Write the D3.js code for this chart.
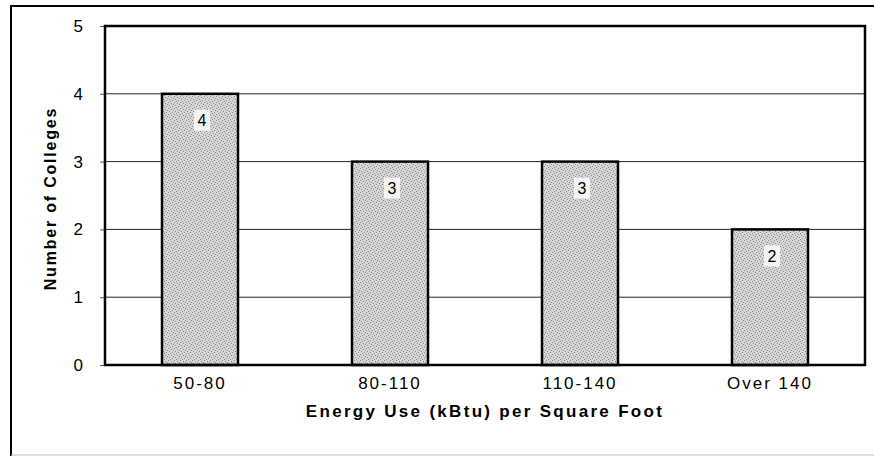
<!DOCTYPE html>
<meta charset="utf-8">
<style>
body { margin: 0; background: #fff; }
text { font-family: Arial, "Liberation Sans", sans-serif; }
</style>
<body>
<script src="https://d3js.org/d3.v7.min.js"></script>
<script>
// data
let categories = ['50-80', '80-110', '110-140', 'Over 140'];
let counts = [4, 3, 3, 2];
let yTicks = [0, 1, 2, 3, 4, 5];

let width = 874, height = 457;
let margin = {top: 26, right: 9, bottom: 92, left: 105};

let svg = d3.select('body').append('svg')
	.attr('width', width)
	.attr('height', height);

// stipple fill for bars
let defs = svg.append('defs');
let pat = defs.append('pattern')
	.attr('id', 'stip')
	.attr('patternUnits', 'userSpaceOnUse')
	.attr('width', 6).attr('height', 6);
pat.append('rect').attr('width', 6).attr('height', 6).attr('fill', '#d6d6d6');
[[0,0],[3,1],[1,3],[4,4],[2,5],[5,2]].forEach(p => {
	pat.append('rect').attr('x', p[0]).attr('y', p[1])
		.attr('width', 1).attr('height', 1).attr('fill', '#8a8a8a');
});

// outer frame
svg.append('path')
	.attr('d', 'M11,456 L11,6 L874,6')
	.attr('fill', 'none').attr('stroke', '#000').attr('stroke-width', 2);
svg.append('line')
	.attr('x1', 11).attr('x2', 874).attr('y1', 455).attr('y2', 455)
	.attr('stroke', '#bbb').attr('stroke-width', 1);

let x = d3.scaleBand()
	.domain(categories)
	.range([margin.left, width - margin.right])
	.paddingInner(0.6)
	.paddingOuter(0.3);

let y = d3.scaleLinear()
	.domain([0, 5])
	.range([height - margin.bottom, margin.top]);

// gridlines
svg.append('g')
	.selectAll('line')
	.data(yTicks.slice(1, -1))
	.join('line')
	.attr('x1', margin.left).attr('x2', width - margin.right)
	.attr('y1', d => y(d)).attr('y2', d => y(d))
	.attr('stroke', '#222').attr('stroke-width', 1);

// y axis
let yAxis = svg.append('g')
	.attr('transform', 'translate(' + margin.left + ',0)')
	.call(d3.axisLeft(y).tickValues(yTicks).tickSize(5).tickPadding(17).tickFormat(d3.format('d')));
yAxis.select('.domain').remove();
yAxis.selectAll('.tick line').attr('stroke', '#555');
yAxis.selectAll('text').attr('font-size', 17).attr('fill', '#000');

// bars
svg.append('g')
	.selectAll('rect')
	.data(counts)
	.join('rect')
	.attr('x', (d, i) => x(categories[i]))
	.attr('y', d => y(d))
	.attr('width', x.bandwidth())
	.attr('height', d => y(0) - y(d))
	.attr('fill', 'url(#stip)')
	.attr('stroke', '#000')
	.attr('stroke-width', 2.5);

// value labels
let lbl = svg.append('g')
	.selectAll('g')
	.data(counts)
	.join('g')
	.attr('transform', (d, i) => 'translate(' + (x(categories[i]) + x.bandwidth() / 2 + 2) + ',' + (y(d) + 27) + ')');
lbl.append('rect')
	.attr('x', -8).attr('y', -11).attr('width', 16).attr('height', 21)
	.attr('fill', '#f4f4f4');
lbl.append('text')
	.attr('text-anchor', 'middle')
	.attr('dy', '0.35em')
	.attr('font-size', 16)
	.text(d => d);

// plot border
svg.append('rect')
	.attr('x', margin.left).attr('y', margin.top)
	.attr('width', width - margin.right - margin.left)
	.attr('height', height - margin.bottom - margin.top)
	.attr('fill', 'none').attr('stroke', '#000').attr('stroke-width', 2.5);

// x axis labels
let xAxis = svg.append('g')
	.attr('transform', 'translate(0,' + (height - margin.bottom) + ')')
	.call(d3.axisBottom(x).tickSize(0).tickPadding(12));
xAxis.select('.domain').remove();
xAxis.selectAll('text').attr('font-size', 17).attr('fill', '#000').style('letter-spacing', '2px');

// axis titles
svg.append('text')
	.attr('x', (margin.left + width - margin.right) / 2)
	.attr('y', 417)
	.attr('text-anchor', 'middle')
	.attr('font-size', 17).attr('font-weight', 'bold')
	.style('letter-spacing', '2.3px')
	.text('Energy Use (kBtu) per Square Foot');

svg.append('text')
	.attr('transform', 'translate(56,' + ((margin.top + height - margin.bottom) / 2 + 3) + ') rotate(-90)')
	.attr('text-anchor', 'middle')
	.attr('font-size', 16).attr('font-weight', 'bold')
	.style('letter-spacing', '1.8px')
	.text('Number of Colleges');
</script>
</body>
